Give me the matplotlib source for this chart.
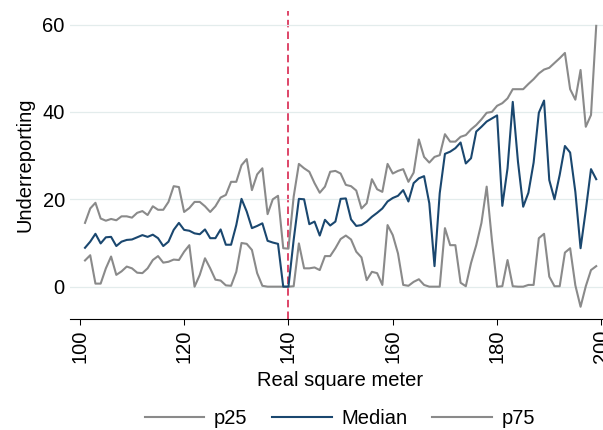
import matplotlib
matplotlib.use('Agg')
import matplotlib.pyplot as plt
import numpy as np

plt.rcParams['font.family'] = ['Liberation Sans', 'DejaVu Sans']

# Real square meter (x) and the three series
sqm = np.arange(101, 200)

p25 = [6.0, 7.2, 0.7, 0.7, 4.2, 6.9, 2.7, 3.5, 4.6, 4.2,
       3.2, 3.1, 4.2, 6.1, 7.0, 5.5, 5.7, 6.2, 6.1, 8.0,
       9.5, 0.0, 2.7, 6.5, 4.2, 1.6, 1.4, 0.3, 0.2, 3.4,
       10.0, 9.8, 8.4, 3.1, 0.2, 0.0, 0.0, 0.0, 0.0, 0.0,
       0.1, 9.9, 4.2, 4.2, 4.4, 3.8, 7.0, 7.0, 8.8, 10.9,
       11.7, 10.8, 8.0, 6.7, 1.5, 3.4, 3.1, 0.4, 14.1, 11.8,
       7.6, 0.4, 0.2, 1.1, 1.7, 0.4, 0.0, 0.0, 0.0, 13.4,
       9.5, 9.5, 0.9, 0.1, 5.4, 9.5, 14.6, 22.9, 10.7, 0.0,
       0.1, 6.1, 0.1, 0.0, 0.0, 0.4, 0.4, 11.1, 12.1, 2.3,
       0.1, 0.1, 7.8, 8.8, 0.3, -4.6, 0.1, 3.8, 4.7]

median = [8.9, 10.3, 12.1, 9.9, 11.3, 11.4, 9.3, 10.3, 10.7, 10.8,
          11.3, 11.8, 11.4, 11.9, 11.1, 9.3, 10.3, 13.0, 14.6, 13.0,
          12.8, 12.2, 12.0, 13.1, 11.1, 11.1, 13.1, 9.6, 9.6, 14.1,
          20.1, 17.2, 13.4, 13.9, 14.5, 10.5, 10.1, 9.8, 0.0, 0.0,
          10.7, 20.1, 20.0, 14.3, 14.9, 11.7, 15.3, 14.0, 14.9, 20.1,
          20.2, 15.4, 13.9, 14.1, 14.9, 16.0, 16.9, 17.9, 19.5, 20.3,
          20.8, 22.1, 19.5, 23.7, 24.8, 25.3, 19.1, 4.7, 21.4, 30.4,
          30.9, 31.7, 33.0, 28.2, 29.4, 35.5, 36.6, 37.8, 38.5, 39.2,
          18.5, 27.1, 42.3, 28.6, 18.3, 21.5, 28.4, 39.8, 42.6, 24.4,
          20.0, 25.6, 32.2, 30.7, 21.7, 8.8, 17.5, 26.9, 24.6]

p75 = [14.6, 17.9, 19.2, 15.6, 15.1, 15.5, 15.2, 16.1, 16.1, 15.8,
       16.9, 17.3, 16.4, 18.4, 17.6, 17.6, 19.4, 23.0, 22.8, 17.1,
       18.0, 19.4, 19.4, 18.4, 17.1, 18.4, 20.4, 21.0, 24.0, 24.0,
       27.8, 29.2, 22.1, 25.7, 27.1, 16.6, 20.0, 20.8, 8.8, 8.7,
       20.6, 28.1, 27.1, 26.3, 23.7, 21.5, 22.9, 26.3, 26.5, 25.9,
       23.3, 23.0, 22.0, 17.9, 19.1, 24.6, 22.3, 21.7, 28.1, 25.9,
       26.5, 26.9, 24.0, 26.1, 33.7, 29.7, 28.4, 29.7, 30.1, 34.9,
       33.2, 33.2, 34.3, 34.7, 36.0, 37.0, 38.3, 39.8, 40.0, 41.4,
       42.0, 43.1, 45.2, 45.2, 45.2, 46.4, 47.5, 48.8, 49.7, 50.1,
       51.2, 52.3, 53.5, 45.2, 42.8, 49.6, 36.6, 39.3, 59.7]

cutoff = 140
x_ticks = [100, 120, 140, 160, 180, 200]
y_ticks = [0, 20, 40, 60]

GRAY = '#8a8a8a'
NAVY = '#1a476f'
RED = '#d8264f'
FS = 14.5

fig = plt.figure(figsize=(6.03, 4.30), dpi=100)
ax = fig.add_axes([70.4 / 603, 111 / 430, 532.6 / 603, 308 / 430])

ax.axvline(cutoff, color=RED, lw=1.2, linestyle=(0, (4.5, 2.5)), zorder=1)
ax.plot(sqm, p25, color=GRAY, lw=1.5, label='p25', zorder=2)
ax.plot(sqm, median, color=NAVY, lw=1.5, label='Median', zorder=3)
ax.plot(sqm, p75, color=GRAY, lw=1.5, label='p75', zorder=2)

ax.set_xlim(98.2, 200.3)
ax.set_ylim(-7.4, 63.1)
ax.set_xticks(x_ticks)
ax.set_yticks(y_ticks)
ax.tick_params(axis='x', length=4.3, width=0.75, pad=3, labelsize=FS,
               labelrotation=90, color='black')
ax.tick_params(axis='y', length=0, pad=4, labelsize=FS)
ax.grid(axis='y', color='#e3ecec', lw=0.9, zorder=0)

for side in ['top', 'right', 'left']:
    ax.spines[side].set_visible(False)
ax.spines['bottom'].set_linewidth(0.8)

ax.set_xlabel('Real square meter', fontsize=FS)
ax.xaxis.set_label_coords((340 - 70.4) / 532.6, (319 - 371) / 308)
ax.set_ylabel('Underreporting', fontsize=FS)
ax.yaxis.set_label_coords((34 - 70.4) / 532.6, 0.5)

fig.legend(loc='center', bbox_to_anchor=(340 / 603, 1 - 419 / 430), ncol=3,
           frameon=False, fontsize=FS, handlelength=2.95, handletextpad=0.5,
           columnspacing=1.22)

fig.savefig('out.png', dpi=100, facecolor='white')
